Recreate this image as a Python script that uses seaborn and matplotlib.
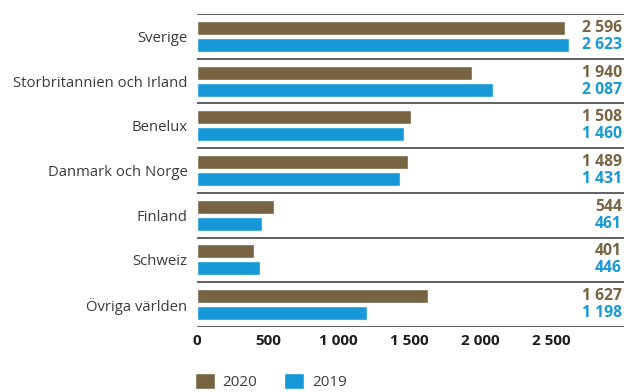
import matplotlib
matplotlib.use("Agg")
import matplotlib.pyplot as plt
import seaborn as sns
import pandas as pd
from matplotlib.patches import Patch

regions = ["Sverige", "Storbritannien och Irland", "Benelux", "Danmark och Norge",
           "Finland", "Schweiz", "Övriga världen"]
values_2020 = [2596, 1940, 1508, 1489, 544, 401, 1627]
values_2019 = [2623, 2087, 1460, 1431, 461, 446, 1198]
years = ["2020", "2019"]
x_ticks = [0, 500, 1000, 1500, 2000, 2500]

BROWN = "#776442"
BLUE = "#1699d6"
TEXT = "#3a3a3a"

sns.set_theme(style="white")
plt.rcParams["font.family"] = ["Open Sans", "DejaVu Sans"]

df = pd.DataFrame({
    "region": regions * 2,
    "value": values_2020 + values_2019,
    "year": [years[0]] * len(regions) + [years[1]] * len(regions),
})

fig = plt.figure(figsize=(6.24, 3.92), dpi=100)
ax = fig.add_axes([0.316, 0.166, 0.684, 0.798])

sns.barplot(data=df, y="region", x="value", hue="year", order=regions,
            hue_order=years, palette=[BROWN, BLUE], orient="h", saturation=1,
            width=0.76, gap=0.18, dodge=True, legend=False, ax=ax)

ax.set_xlim(0, 3015)
ax.set_ylim(len(regions) - 0.5, -0.5)
ax.set_xlabel("")
ax.set_ylabel("")
for s in ax.spines.values():
    s.set_visible(False)

# group separators
for i in range(len(regions) + 1):
    ax.axhline(i - 0.5, color="#606060", lw=1.4, zorder=3)

ax.set_xticks(x_ticks)
ax.set_xticklabels([f"{t:,}".replace(",", " ") for t in x_ticks],
                   fontweight="bold", fontsize=11, color="#1e1e1e")
ax.tick_params(axis="x", length=0, pad=5)
ax.tick_params(axis="y", length=0, pad=7)
for lbl in ax.get_yticklabels():
    lbl.set_fontsize(10.7)
    lbl.set_color(TEXT)

# value labels at the right edge
off = 0.76 / 4
for i in range(len(regions)):
    for val, dy, col in ((values_2020[i], -off, BROWN), (values_2019[i], off, BLUE)):
        ax.text(0.995, i + dy, f"{val:,}".replace(",", " "),
                transform=ax.get_yaxis_transform(), ha="right", va="center",
                fontsize=11.3, fontweight="bold", color=col)

handles = [Patch(facecolor=BROWN, label="2020"), Patch(facecolor=BLUE, label="2019")]
fig.legend(handles=handles, loc="lower left", bbox_to_anchor=(0.29, -0.03),
           ncol=2, frameon=False, fontsize=11, handlelength=1.3, handleheight=1.3,
           handletextpad=0.5, columnspacing=1.8, labelcolor=TEXT)

fig.savefig("out.png", dpi=100)
